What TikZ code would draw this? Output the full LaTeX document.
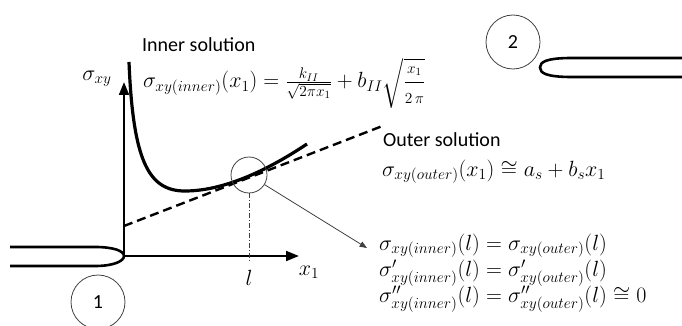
\documentclass[tikz,border=0pt]{standalone}
\usepackage{fix-cm}
\usepackage{amsmath}
\usepackage{fontspec}
\setmainfont{Carlito}
\usetikzlibrary{arrows.meta,calc,positioning}
\definecolor{ink}{HTML}{000000}
\definecolor{rim}{HTML}{404040}
\tikzset{
  axisline/.style={
    -{Triangle[length=4.5mm,width=3.4mm]},
    draw=ink,
    line width=2.4pt
  },
  crack/.style={
    draw=ink,
    line width=2.6pt
  },
  stress/.style={
    draw=ink,
    line width=3.2pt
  },
  asymptote/.style={
    draw=ink,
    line width=2.4pt,
    dash pattern=on 9pt off 5pt
  },
  tag/.style={
    circle,
    draw=rim,
    line width=0.8pt,
    minimum size=54pt,
    inner sep=0pt,
    font=\fontsize{20}{24}\selectfont
  },
  guide/.style={
    draw=rim,
    line width=0.7pt,
    dash pattern=on 5pt off 2pt on 1pt off 2pt
  },
  pointer/.style={
    -{Triangle[length=2.6mm,width=2mm]},
    draw=rim,
    line width=0.8pt
  },
  heading/.style={
    anchor=west,
    inner sep=0pt,
    text=ink,
    font=\fontsize{20}{24}\selectfont
  },
  formula/.style={
    anchor=base west,
    inner sep=0pt,
    text=ink,
    font=\fontsize{22}{26}\selectfont
  }
}

\begin{document}
\begin{tikzpicture}[x=1pt,y=-1pt]
  \useasboundingbox (0,0) rectangle (682,326);

  % axes
  \coordinate (o) at (124,256);
  \coordinate (ytop) at (124,82);
  \coordinate (xend) at (299,256);
  \draw[axisline] (o) -- (ytop);
  \draw[axisline] (o) -- (xend);
  \node[formula, anchor=center] (ylab) at (97,79) {$\sigma_{xy}$};
  \node[formula, anchor=center] (xlab) at (309,272) {$x_1$};

  % crack tips
  \draw[crack] (10,247) -- (95,247)
    .. controls (114,247) and (124,251) .. (o)
    .. controls (124,261) and (114,266) .. (95,266) -- (10,266);
  \draw[crack] (682,58) -- (572,58)
    .. controls (546,58) and (540,62) .. (540,67.5)
    .. controls (540,73) and (546,77) .. (572,77) -- (682,77);
  \node[tag] (tip1) at (98,302) {1};
  \node[tag] (tip2) at (513,42) {2};

  % inner and outer solutions
  \draw[asymptote] (124,226) -- (385,125);
  \draw[stress] (129,62) .. controls (133,160) and (148,191) .. (185,191)
    .. controls (220,191) and (262,174) .. (307,144);

  % matching point
  \node[tag, minimum size=36pt] (match) at (249,175) {};
  \coordinate (lfoot) at (249,263);
  \draw[guide] (match) -- (lfoot);
  \node[formula, anchor=center] (lval) at (249,278) {$l$};
  \coordinate (arrowtip) at (367,248);
  \draw[pointer] (match) -- (arrowtip);

  \node[heading] (inner) at (142,45) {Inner solution};
  \node[formula] (innereq) at (143,88)
    {$\sigma_{xy(inner)}(x_1)=\frac{k_{II}}{\sqrt{2\pi x_1}}+b_{II}\sqrt{\dfrac{\scriptstyle x_1}{\scriptstyle 2\,\pi}}$};
  \node[heading] (outer) at (383,140) {Outer solution};
  \node[formula] (outereq) at (382,176)
    {$\sigma_{xy(outer)}(x_1)\cong a_s+b_sx_1$};
  \node[formula] (cond1) at (379,250)
    {$\sigma_{xy(inner)}(l)=\sigma_{xy(outer)}(l)$};
  \node[formula] (cond2) at (379,276)
    {$\sigma'_{xy(inner)}(l)=\sigma'_{xy(outer)}(l)$};
  \node[formula] (cond3) at (379,302)
    {$\sigma''_{xy(inner)}(l)=\sigma''_{xy(outer)}(l)\cong0$};
\end{tikzpicture}
\end{document}
